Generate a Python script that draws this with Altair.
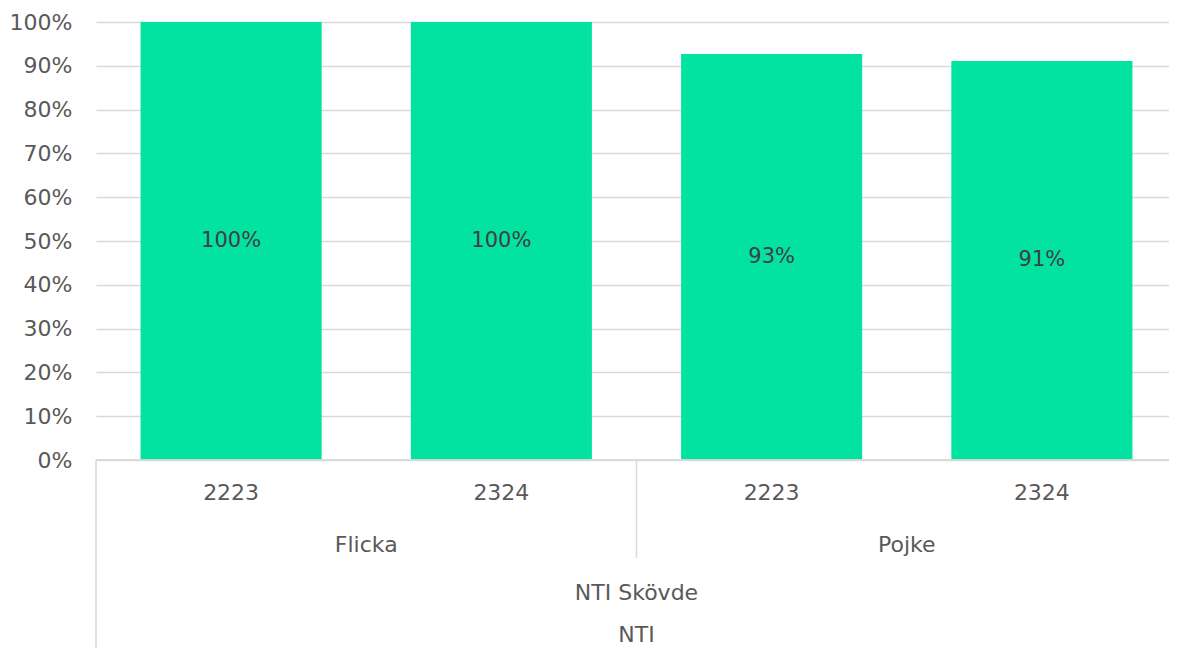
import altair as alt
import pandas as pd

# ---- data ----
genders = ["Flicka", "Flicka", "Pojke", "Pojke"]
years = ["2223", "2324", "2223", "2324"]
values = [1.00, 1.00, 0.927, 0.911]
gender_groups = ["Flicka", "Pojke"]
school_label = ["NTI Skövde"]
org_label = ["NTI"]
y_ticks = [0, 0.1, 0.2, 0.3, 0.4, 0.5, 0.6, 0.7, 0.8, 0.9, 1.0]

W = 1073
RANGE_W = 1081
H = 438
FONT = "DejaVu Sans"
FS = 22
AXIS_COLOR = "#595959"
LINE_COLOR = "#d9d9d9"
BAR_COLOR = "#02E2A0"

df = pd.DataFrame({"gender": genders, "year": years, "value": values})
df["mid"] = df["value"] / 2
gdf = pd.DataFrame({"gender": gender_groups})

xscale = alt.Scale(domain=gender_groups, paddingInner=0, paddingOuter=0, range=[0, RANGE_W])
x = alt.X("gender:N", scale=xscale, axis=None)
xoff = alt.XOffset("year:N", scale=alt.Scale(paddingInner=0.33, paddingOuter=0.165))
yscale = alt.Scale(domain=[0, 1])

bars = alt.Chart(df).mark_bar(color=BAR_COLOR).encode(
    x=x,
    xOffset=xoff,
    y=alt.Y(
        "value:Q",
        scale=yscale,
        axis=alt.Axis(
            values=y_ticks,
            format=".0%",
            domain=False,
            ticks=False,
            tickSize=0,
            labelPadding=24,
            labelFontSize=FS,
            labelColor=AXIS_COLOR,
            labelFont=FONT,
            gridColor=LINE_COLOR,
            gridWidth=1.5,
            title=None,
        ),
    ),
)

bar_labels = alt.Chart(df).mark_text(
    font=FONT, fontSize=21, color="#404040", baseline="middle"
).encode(
    x=x,
    xOffset=xoff,
    y=alt.Y("mid:Q", scale=yscale),
    text=alt.Text("value:Q", format=".0%"),
)

base_line = alt.Chart(gdf).mark_rule(color=LINE_COLOR, strokeWidth=1.5).encode(
    x=alt.value(0), x2=alt.value(W), y=alt.value(H)
)

left_sep = alt.Chart(pd.DataFrame({"gender": [gender_groups[0]]})).mark_rule(
    color=LINE_COLOR, strokeWidth=1.5
).encode(
    x=alt.X("gender:N", scale=xscale, axis=None, bandPosition=0),
    y=alt.value(H),
    y2=alt.value(H + 200),
)

mid_sep = alt.Chart(pd.DataFrame({"gender": [gender_groups[1]]})).mark_rule(
    color=LINE_COLOR, strokeWidth=1.5
).encode(
    x=alt.X("gender:N", scale=xscale, axis=None, bandPosition=0),
    y=alt.value(H),
    y2=alt.value(H + 98),
)

year_text = alt.Chart(df).mark_text(
    font=FONT, fontSize=FS, color=AXIS_COLOR, baseline="middle"
).encode(x=x, xOffset=xoff, y=alt.value(H + 33), text="year:N")

gender_text = alt.Chart(gdf).mark_text(
    font=FONT, fontSize=FS, color=AXIS_COLOR, baseline="middle"
).encode(x=x, y=alt.value(H + 85), text="gender:N")

school_text = alt.Chart(pd.DataFrame({"t": school_label})).mark_text(
    font=FONT, fontSize=FS, color=AXIS_COLOR, baseline="middle"
).encode(x=alt.value(RANGE_W / 2), y=alt.value(H + 133), text="t:N")

org_text = alt.Chart(pd.DataFrame({"t": org_label})).mark_text(
    font=FONT, fontSize=FS, color=AXIS_COLOR, baseline="middle"
).encode(x=alt.value(RANGE_W / 2), y=alt.value(H + 175), text="t:N")

chart = (
    alt.layer(
        bars, base_line, left_sep, mid_sep, bar_labels,
        year_text, gender_text, school_text, org_text,
    )
    .properties(
        width=W,
        height=H,
        autosize=alt.AutoSizeParams(type="none"),
        padding={"left": 88, "top": 14, "right": 0, "bottom": 188},
    )
    .configure_view(stroke=None)
)

chart.save("out.html", embed_options={"renderer": "svg", "actions": False})
